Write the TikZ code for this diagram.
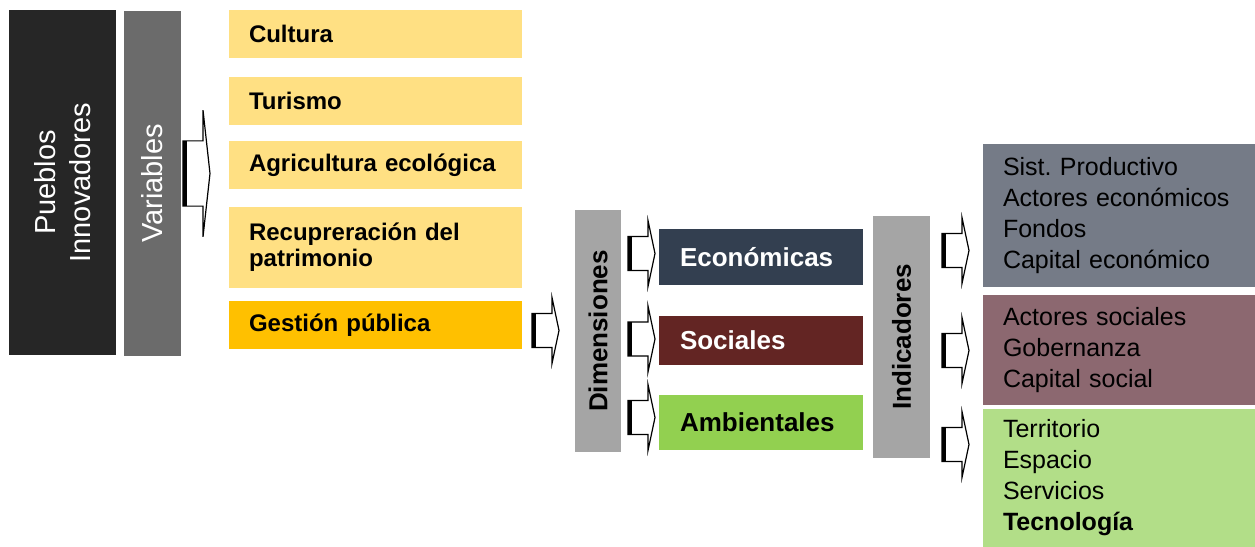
\documentclass[tikz,border=0pt]{standalone}
\usepackage{fontspec}
\setmainfont{Liberation Sans}
\definecolor{pueblosgray}{HTML}{262626}
\definecolor{vargray}{HTML}{6B6B6B}
\definecolor{lightyellow}{HTML}{FFE083}
\definecolor{gold}{HTML}{FFC000}
\definecolor{midgray}{HTML}{A5A5A5}
\definecolor{econblue}{HTML}{333F50}
\definecolor{socred}{HTML}{632523}
\definecolor{ambgreen}{HTML}{92D050}
\definecolor{slategray}{HTML}{757B87}
\definecolor{mauve}{HTML}{8C6870}
\definecolor{palegreen}{HTML}{B2DE88}
\frenchspacing
\begin{document}
\begin{tikzpicture}[
    x=0.5pt, y=-0.5pt,
    sidebox/.style={rectangle, rotate=90, inner sep=0pt, align=center},
    varbox/.style={rectangle, fill=lightyellow, inner sep=0pt, inner xsep=10pt, minimum width=146.5pt, minimum height=24pt, text width=126.5pt, align=left, font=\bfseries\fontsize{12}{13}\selectfont},
    dimbox/.style={rectangle, inner sep=0pt, inner xsep=10.5pt, minimum width=102pt, text width=81pt, align=left, font=\bfseries\fontsize{13}{15}\selectfont},
    indbox/.style={rectangle, inner sep=0pt, inner xsep=10pt, minimum width=136pt, text width=116pt, align=left, font=\fontsize{12.5}{15.5}\selectfont},
    barrow/.pic={
        \draw[fill=white, line width=0.6pt, line join=miter] (0,-17) -- (20,-17) -- (20,-33) -- (27,0) -- (20,33) -- (20,17) -- (0,17) -- cycle;
        \draw[line width=2pt] (1.5,-17) -- (1.5,17);
    }
]
\useasboundingbox (0,0) rectangle (1255,547);

% Titles
\node[sidebox, fill=pueblosgray, text=white, minimum width=172.5pt, minimum height=53.5pt, font=\fontsize{14.5}{17.5}\selectfont] (pueblos) at (62.5,182.5) {Pueblos\\Innovadores};
\node[sidebox, fill=vargray, text=white, minimum width=172.5pt, minimum height=28.5pt, font=\fontsize{14.5}{17.5}\selectfont] (variables) at (152.5,183.5) {Variables};

% Variables
\node[varbox] (cultura) at (375.5,34) {Cultura};
\node[varbox] (turismo) at (375.5,101) {Turismo};
\node[varbox] (agricultura) at (375.5,165) {Agricultura ecológica};
\node[varbox, minimum height=40.5pt] (recuperacion) at (375.5,247.5) {Recupreración del\\patrimonio};
\node[varbox, fill=gold] (gestion) at (375.5,325) {Gestión pública};

% Dimensions
\node[sidebox, fill=midgray, minimum width=121pt, minimum height=23pt, font=\bfseries\fontsize{13}{15}\selectfont] (dimensiones) at (598,331) {Dimensiones};
\node[dimbox, fill=econblue, text=white, minimum height=28pt] (economicas) at (761,257) {Económicas};
\node[dimbox, fill=socred, text=white, minimum height=24.5pt] (sociales) at (761,340.5) {Sociales};
\node[dimbox, fill=ambgreen, minimum height=27.5pt] (ambientales) at (761,422.5) {Ambientales};

% Indicators
\node[sidebox, fill=midgray, minimum width=121pt, minimum height=28.5pt, font=\bfseries\fontsize{13}{15}\selectfont] (indicadores) at (901.5,337) {Indicadores};
\node[indbox, fill=slategray, minimum height=71.5pt] (indecon) at (1119,215.5) {Sist. Productivo\\Actores económicos\\Fondos\\Capital económico};
\node[indbox, fill=mauve, minimum height=55pt] (indsoc) at (1119,350) {Actores sociales\\Gobernanza\\Capital social};
\node[indbox, fill=palegreen, minimum height=69pt] (indamb) at (1119,478) {Territorio\\Espacio\\Servicios\\{\bfseries Tecnología}};

% Block arrows
\pic[yscale=1.92] (arrvar) at (183,173.5) {barrow};
\pic (arrgest) at (532,330.5) {barrow};
\pic (arrecon) at (628,253.5) {barrow};
\pic (arrsoc) at (628,339) {barrow};
\pic (arramb) at (628,417.5) {barrow};
\pic (arrindecon) at (942,250.5) {barrow};
\pic (arrindsoc) at (942,350.5) {barrow};
\pic (arrindamb) at (942,444.5) {barrow};

\end{tikzpicture}
\end{document}
